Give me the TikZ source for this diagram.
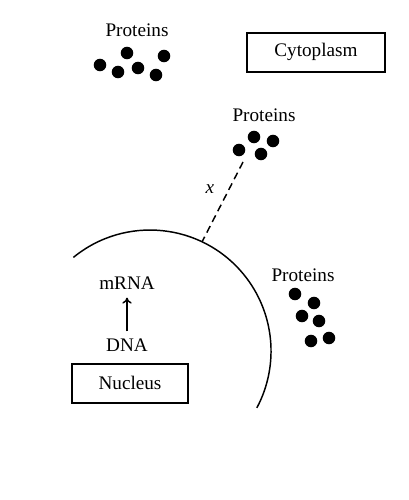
\documentclass[tikz,border=0pt]{standalone}
\usepackage{fontspec}
\setmainfont{Liberation Serif}
\usetikzlibrary{arrows.meta}
\tikzset{
  lbl/.style={inner sep=0pt, font=\fontsize{14.4}{17}\selectfont},
  dot/.style={circle, fill=black, inner sep=0pt, minimum size=9.4pt},
  boxed/.style={draw, line width=1.1pt, inner sep=0pt},
  ln/.style={line width=1.1pt},
}
\begin{document}
\begin{tikzpicture}[x=0.75pt,y=0.75pt]
\useasboundingbox (0,0) rectangle (409,500);
% top-left proteins
\node[lbl] (p1) at (137,470) {Proteins};
\node[dot] (a1) at (100,435) {};
\node[dot] (a2) at (127,447) {};
\node[dot] (a3) at (118,428) {};
\node[dot] (a4) at (138,432) {};
\node[dot] (a5) at (156,425) {};
\node[dot] (a6) at (164,444) {};
% cytoplasm
\node[boxed, minimum width=103.5pt, minimum height=29.25pt] (cyto) at (316,447.5) {};
\node[lbl] (cytot) at (316,448) {Cytoplasm};
% middle proteins
\node[lbl] (p2) at (264,385) {Proteins};
\node[dot] (b1) at (239,350) {};
\node[dot] (b2) at (254,363) {};
\node[dot] (b3) at (273,359) {};
\node[dot] (b4) at (261,346) {};
% nucleus membrane
\draw[ln] (73.4,242.6) arc[start angle=129.3, end angle=-28, radius=90.75pt];
\coordinate (mem) at (202.1,258.2);
\coordinate (dtop) at (243,338);
\draw[ln, dash pattern=on 5.5pt off 3.5pt] (dtop) -- (mem);
\node[lbl] (xl) at (210,311) {\itshape x};
% right proteins
\node[lbl] (p3) at (303,225) {Proteins};
\node[dot] (c1) at (295,206) {};
\node[dot] (c2) at (314,197) {};
\node[dot] (c3) at (302,184) {};
\node[dot] (c4) at (319,179) {};
\node[dot] (c5) at (311,159) {};
\node[dot] (c6) at (329,162) {};
% inside nucleus
\node[lbl] (mrna) at (127,217) {mRNA};
\node[lbl] (dna) at (127,155) {DNA};
\draw[ln, -{To[length=4.5pt,width=7pt]}] (dna.north) ++(0,7) coordinate (as) (as) -- ([yshift=-6pt]mrna.south);
\node[boxed, minimum width=87pt, minimum height=29.25pt] (nuc) at (130,116.5) {};
\node[lbl] (nuct) at (130,117) {Nucleus};
\end{tikzpicture}
\end{document}
